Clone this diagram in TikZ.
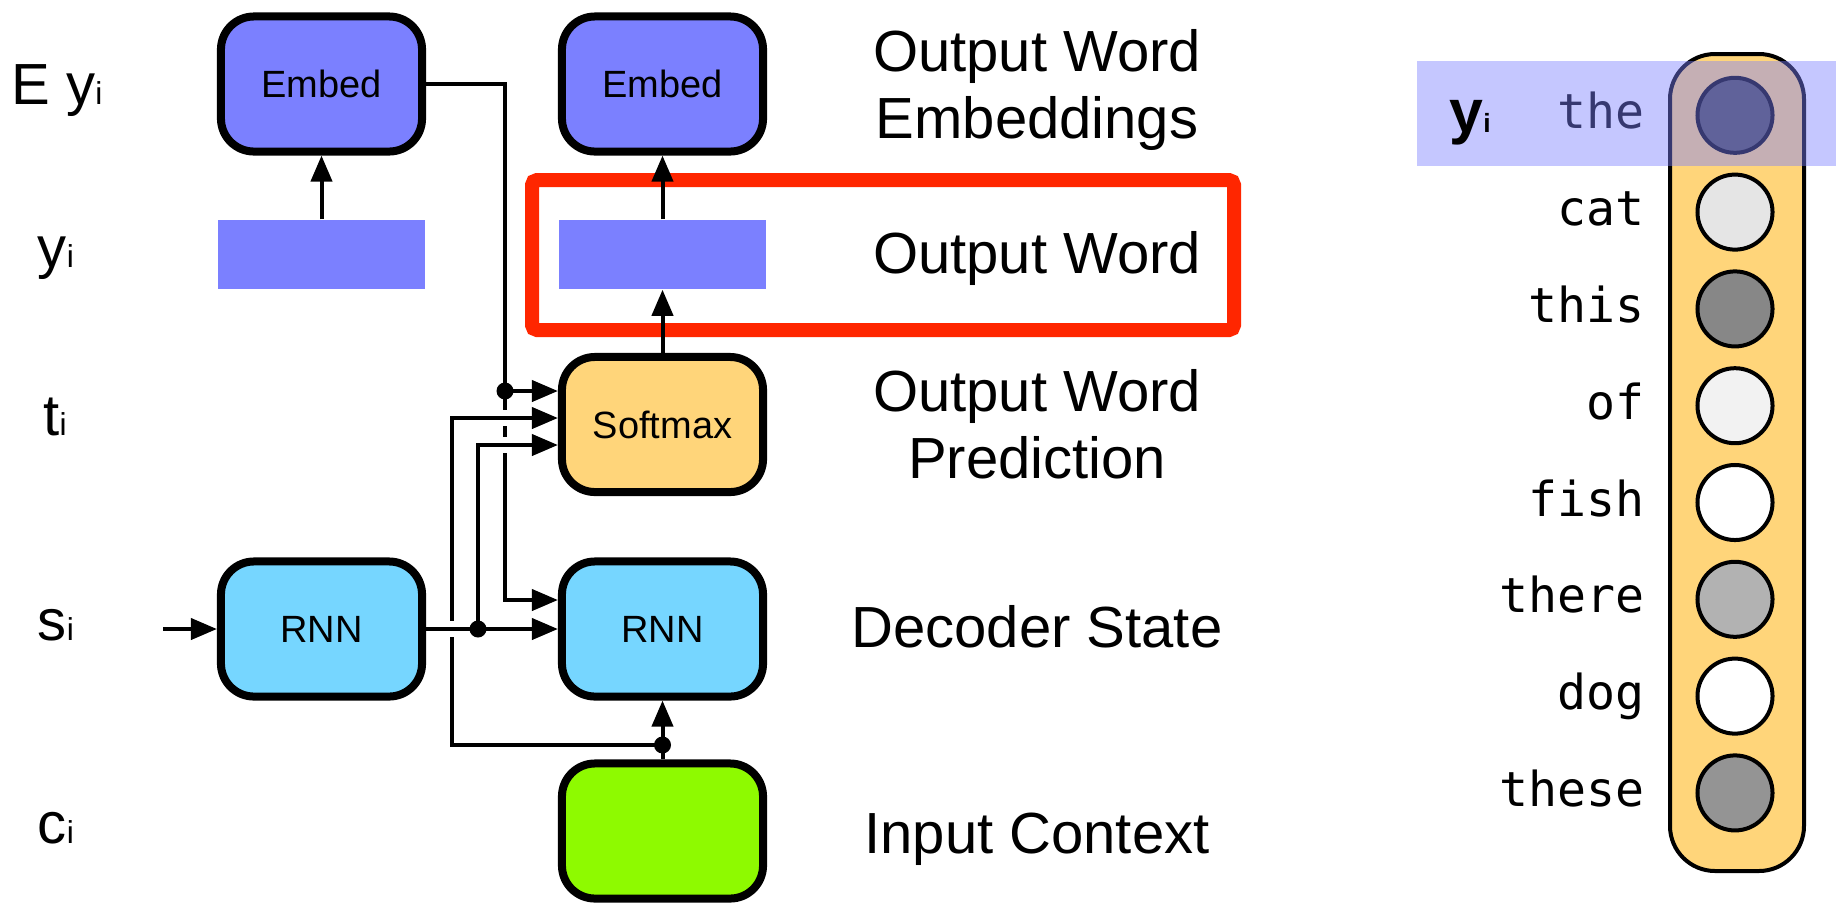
\documentclass[tikz,border=0pt]{standalone}
\usepackage{fontspec}
\setmainfont{Liberation Sans}
\newfontfamily\wordfont{DejaVu Sans Mono}
\usetikzlibrary{arrows.meta}

\definecolor{embedblue}{RGB}{123,128,255}
\definecolor{softyellow}{RGB}{255,213,122}
\definecolor{rnncyan}{RGB}{118,214,255}
\definecolor{ctxgreen}{RGB}{142,250,0}
\definecolor{outred}{RGB}{255,38,0}

\newcommand{\subi}{{\fontsize{9}{9}\selectfont i}}

\begin{document}
\begin{tikzpicture}[x=0.01cm,y=-0.01cm,
    box/.style={draw,line width=0.08cm,rounded corners=0.33cm,minimum width=2.01cm,minimum height=1.35cm,inner sep=0,font=\fontsize{10.8}{12}\selectfont},
    wordvec/.style={fill=embedblue,minimum width=2.06cm,minimum height=0.69cm,inner sep=0},
    conn/.style={line width=0.04cm,-{Triangle[length=0.26cm,width=0.21cm]}},
    dot/.style={circle,fill,inner sep=0,minimum size=0.17cm},
    gap/.style={white,line width=0.07cm},
    lbl/.style={anchor=base,inner sep=0,font=\fontsize{16.5}{18}\selectfont},
    caption/.style={align=center,inner sep=0,font=\fontsize{16.5}{18.8}\selectfont},
    unit/.style={circle,draw,line width=0.04cm,minimum size=0.75cm,inner sep=0},
    word/.style={anchor=base east,inner sep=0,font=\wordfont\fontsize{13.7}{14}\selectfont}]
    \useasboundingbox (0,0) rectangle (1836,902);

    % Row labels
    \node[lbl] (labEy) at (57,104) {E y\subi};
    \node[lbl] (labY) at (56,267) {y\subi};
    \node[lbl] (labT) at (55,435) {t\subi};
    \node[lbl] (labS) at (56,640) {s\subi};
    \node[lbl] (labC) at (56,843) {c\subi};

    % Highlight of the output word layer
    \draw[outred,line width=0.14cm,rounded corners=0.05cm] (532,180) rectangle (1234,330);

    % Boxes
    \node[box,fill=embedblue] (embL) at (321.5,84) {Embed};
    \node[box,fill=embedblue] (embR) at (662.5,84) {Embed};
    \node[wordvec] (yL) at (321.5,254.5) {};
    \node[wordvec] (yR) at (662.5,254.5) {};
    \node[box,fill=softyellow] (soft) at (662.5,424.5) {Softmax};
    \node[box,fill=rnncyan] (rnnL) at (321.5,629) {RNN};
    \node[box,fill=rnncyan] (rnnR) at (662.5,629) {RNN};
    \node[box,fill=ctxgreen] (ctx) at (662.5,831) {};

    % Layer names (base = last line)
    \node[caption,anchor=base] (capEmb) at (1037,138) {Output Word\\Embeddings};
    \node[caption,anchor=base] (capWord) at (1037,273) {Output Word};
    \node[caption,anchor=base] (capPred) at (1037,478) {Output Word\\Prediction};
    \node[caption,anchor=base] (capState) at (1037,647) {Decoder State};
    \node[caption,anchor=base] (capCtx) at (1037,853) {Input Context};

    % Straight arrows
    \draw[conn] (yL) -- (embL);
    \draw[conn] (yR) -- (embR);
    \draw[conn] (soft) -- (yR);
    \draw[conn] (ctx) -- (rnnR);
    \node[dot] (dCtx) at (662.5,745) {};

    % Previous output embedding
    \coordinate (cEmb) at (505,600);
    \draw[conn] (embL.east) -| (cEmb) -- (cEmb -| rnnR.west);
    \node[dot] (dEmb) at (505,391) {};
    \draw[conn] (dEmb.center) -- (dEmb.center -| soft.west);
    \foreach \gy in {418,445}
        \draw[gap] (505,{\gy-8}) -- (505,{\gy+8});

    % Input context to softmax
    \coordinate (cCtx) at (452,418);
    \draw[conn] (dCtx.center) -| (cCtx) -- (cCtx -| soft.west);

    % Decoder state to softmax
    \node[dot] (dRnn) at (478,629) {};
    \coordinate (cRnn) at (478,445);
    \draw[conn] (dRnn.center) -- (cRnn) -- (cRnn -| soft.west);

    % Recurrent link
    \draw[gap] (452,621) -- (452,637);
    \draw[conn] (rnnL) -- (rnnR);
    \coordinate (sIn) at (163,629);
    \draw[conn] (sIn) -- (rnnL);

    % Softmax distribution over the vocabulary
    \draw[line width=0.04cm,fill=softyellow,rounded corners=0.45cm] (1670,54) rectangle (1804,871);
    \foreach \w/\g [count=\k] in {the/70,cat/10,this/47,of/5,fish/0,there/30,dog/0,these/42} {
        \node[unit,fill=black!\g] (u\k) at (1735,{115.3+96.8*(\k-1)}) {};
        \node[word] (w\k) at ([xshift=-0.5cm,yshift=-0.135cm]u\k.west) {\w};
    }

    % Chosen word
    \fill[embedblue,fill opacity=0.44] (1417,61) rectangle (1836,166);
    \node[lbl,font=\bfseries\fontsize{17.3}{18}\selectfont] (labYi) at (1470,132) {y{\fontsize{7.5}{8}\selectfont i}};
\end{tikzpicture}
\end{document}
